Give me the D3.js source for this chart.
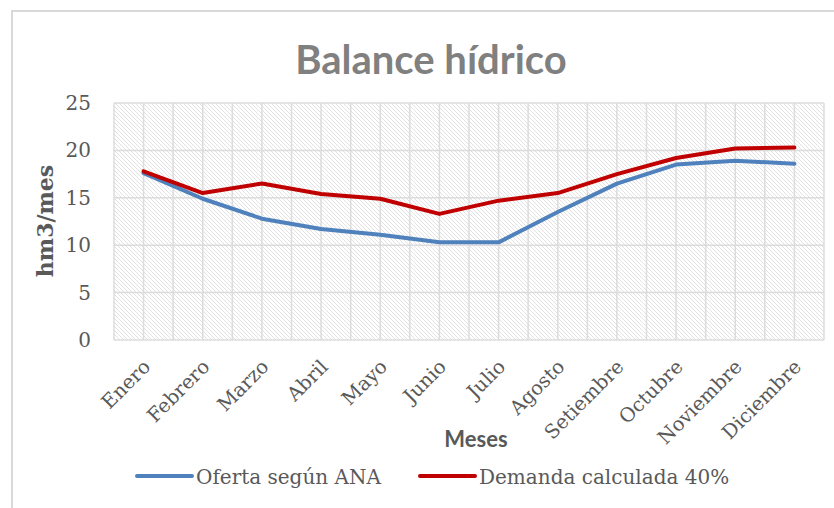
<!DOCTYPE html>
<html>
<head>
<meta charset="utf-8" />
<title>Balance hídrico</title>
<style>
  body { margin: 0; background: #fff; }
  svg { display: block; }
</style>
</head>
<body>
<div id="chart"></div>
<script src="https://cdnjs.cloudflare.com/ajax/libs/d3/7.8.5/d3.min.js"></script>
<script>
// data
var meses = ["Enero", "Febrero", "Marzo", "Abril", "Mayo", "Junio", "Julio",
             "Agosto", "Setiembre", "Octubre", "Noviembre", "Diciembre"];
var oferta  = [17.6, 14.9, 12.8, 11.7, 11.1, 10.3, 10.3, 13.5, 16.5, 18.5, 18.9, 18.6];
var demanda = [17.8, 15.5, 16.5, 15.4, 14.9, 13.3, 14.7, 15.5, 17.5, 19.2, 20.2, 20.3];
var yTicks  = [0, 5, 10, 15, 20, 25];
var series = [
  {name: "Oferta según ANA", values: oferta, color: "#4f81bd"},
  {name: "Demanda calculada 40%", values: demanda, color: "#c00000"}
];

var W = 834, H = 508;
var plot = {left: 114, top: 103, right: 824, bottom: 340};
var serif = "'DejaVu Serif', serif";

var svg = d3.select("#chart").append("svg")
    .attr("width", W)
    .attr("height", H);

// hatch pattern for the plot area
var defs = svg.append("defs");
var pat = defs.append("pattern")
    .attr("id", "hatch")
    .attr("patternUnits", "userSpaceOnUse")
    .attr("width", 4).attr("height", 4);
pat.append("rect").attr("width", 4).attr("height", 4).attr("fill", "#fff");
pat.append("path")
    .attr("d", "M-1,-1 L5,5 M-1,3 L1,5 M3,-1 L5,1")
    .attr("stroke", "#e2e2e2")
    .attr("stroke-width", 1);

// chart frame
svg.append("rect")
    .attr("x", 12).attr("y", 11)
    .attr("width", 840).attr("height", 520)
    .attr("fill", "#fff")
    .attr("stroke", "#d9d9d9")
    .attr("stroke-width", 2);

var x = d3.scaleBand()
    .domain(meses)
    .range([plot.left, plot.right]);

var y = d3.scaleLinear()
    .domain([0, 25])
    .range([plot.bottom, plot.top]);

svg.append("rect")
    .attr("x", plot.left).attr("y", plot.top)
    .attr("width", plot.right - plot.left)
    .attr("height", plot.bottom - plot.top)
    .attr("fill", "url(#hatch)");

// vertical gridlines at band edges and band centres
var vx = [];
meses.forEach(function (m) { vx.push(x(m)); vx.push(x(m) + x.bandwidth() / 2); });
vx.push(plot.right);
svg.append("g").selectAll("line")
    .data(vx)
    .join("line")
    .attr("x1", d => d).attr("x2", d => d)
    .attr("y1", plot.top).attr("y2", plot.bottom)
    .attr("stroke", "#dcdcdc")
    .attr("stroke-width", 1.5);

// horizontal gridlines
svg.append("g").selectAll("line")
    .data(yTicks)
    .join("line")
    .attr("x1", plot.left).attr("x2", plot.right)
    .attr("y1", d => y(d)).attr("y2", d => y(d))
    .attr("stroke", "#dcdcdc")
    .attr("stroke-width", 1.5);

// y axis
var yAxis = svg.append("g")
    .attr("transform", "translate(" + plot.left + ",0)")
    .call(d3.axisLeft(y).tickValues(yTicks).tickSize(0).tickPadding(23));
yAxis.select(".domain").remove();
yAxis.selectAll("text")
    .attr("fill", "#595959")
    .style("font-family", serif)
    .style("font-size", "20px");

// x axis
var xAxis = svg.append("g")
    .attr("transform", "translate(0," + plot.bottom + ")")
    .call(d3.axisBottom(x).tickSize(0));
xAxis.select(".domain").remove();
xAxis.selectAll("text")
    .attr("fill", "#595959")
    .style("font-family", serif)
    .style("font-size", "19.5px")
    .attr("text-anchor", "end")
    .attr("dy", 0)
    .attr("y", 0)
    .attr("transform", "translate(8,28) rotate(-45)");

// lines
var line = d3.line()
    .x(function (d, i) { return x(meses[i]) + x.bandwidth() / 2; })
    .y(function (d) { return y(d); });

svg.append("g").selectAll("path")
    .data(series)
    .join("path")
    .attr("d", d => line(d.values))
    .attr("fill", "none")
    .attr("stroke", d => d.color)
    .attr("stroke-width", 4)
    .attr("stroke-linejoin", "round")
    .attr("stroke-linecap", "round");

// title
svg.append("text")
    .attr("x", 431).attr("y", 74)
    .attr("text-anchor", "middle")
    .attr("fill", "#808080")
    .style("font-family", "Lato, sans-serif")
    .style("font-weight", "700")
    .style("font-size", "40px")
    .text("Balance hídrico");

// axis titles
svg.append("text")
    .attr("transform", "translate(53,221) rotate(-90)")
    .attr("text-anchor", "middle")
    .attr("fill", "#595959")
    .style("font-family", serif)
    .style("font-weight", "700")
    .style("font-size", "22px")
    .text("hm3/mes");

svg.append("text")
    .attr("x", 476).attr("y", 447)
    .attr("text-anchor", "middle")
    .attr("fill", "#595959")
    .style("font-family", "Lato, sans-serif")
    .style("font-weight", "700")
    .style("font-size", "22px")
    .text("Meses");

// legend
var legendX = [137, 420];
var leg = svg.append("g").selectAll("g")
    .data(series)
    .join("g")
    .attr("transform", (d, i) => "translate(" + legendX[i] + ",476)");
leg.append("line")
    .attr("x1", 0).attr("x2", 55)
    .attr("stroke", d => d.color)
    .attr("stroke-width", 4)
    .attr("stroke-linecap", "round");
leg.append("text")
    .attr("x", 59).attr("y", 8)
    .attr("fill", "#595959")
    .style("font-family", serif)
    .style("font-size", "20px")
    .text(d => d.name);
</script>
</body>
</html>
